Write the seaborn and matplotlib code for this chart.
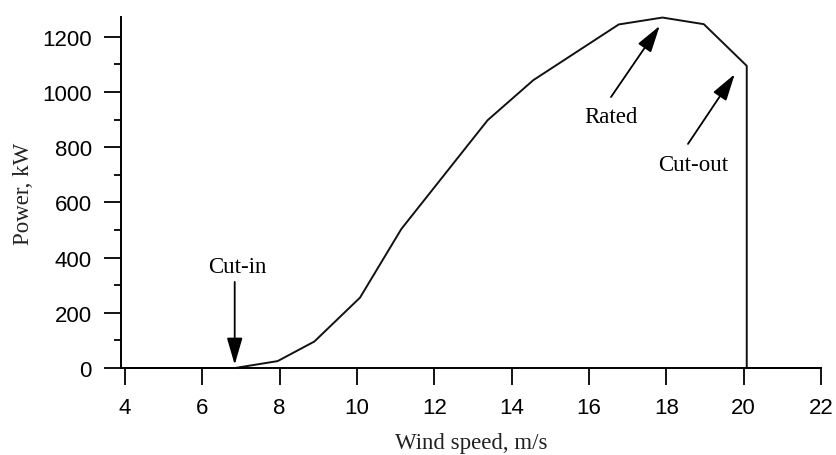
import matplotlib
matplotlib.use("Agg")
import matplotlib.pyplot as plt
import seaborn as sns
import pandas as pd
from matplotlib.ticker import MultipleLocator

wind_speed = [4.0, 6.85, 7.95, 8.9, 10.08, 11.15, 13.38, 14.56, 16.77, 17.9, 18.97, 20.08, 20.08, 22.0]
power_kw = [0, 0, 25, 96, 255, 504, 898, 1043, 1245, 1270, 1246, 1095, 0, 0]

xticks = [4, 6, 8, 10, 12, 14, 16, 18, 20, 22]
yticks = [0, 200, 400, 600, 800, 1000, 1200]

annotations = [
    ("Cut-in", (6.84, 12), (6.84, 312), (6.9, 368)),
    ("Rated", (17.83, 1240), (16.57, 982), (16.57, 910)),
    ("Cut-out", (19.77, 1065), (18.56, 812), (18.69, 739)),
]

df = pd.DataFrame({"Wind speed": wind_speed, "Power": power_kw})

sns.set_theme(style="ticks")
plt.rcParams["font.family"] = ["Liberation Sans", "DejaVu Sans"]

fig = plt.figure(figsize=(8.37, 4.56), dpi=100)
ax = fig.add_axes([121 / 837, 1 - 369 / 456, (821 - 121) / 837, (369 - 18) / 456])

sns.lineplot(data=df, x="Wind speed", y="Power", sort=False, estimator=None,
             color="#111111", linewidth=1.4, ax=ax, clip_on=False)

ax.set_xlim(3.9, 22)
ax.set_ylim(0, 1272)
ax.set_xticks(xticks)
ax.set_yticks(yticks)
ax.yaxis.set_minor_locator(MultipleLocator(100))
ax.tick_params(axis="both", which="major", length=12, width=1.3, labelsize=16,
               pad=9, colors="black", direction="out")
ax.tick_params(axis="y", which="minor", length=5, width=1.3, direction="out", color="black")
for s in ["left", "bottom"]:
    ax.spines[s].set_linewidth(1.4)
    ax.spines[s].set_color("black")
sns.despine(ax=ax)

serif = ["Liberation Serif", "DejaVu Serif"]
ax.set_xlabel("Wind speed, m/s", family=serif, fontsize=16.5, labelpad=10, color="#222222")
ax.set_ylabel("Power, kW", family=serif, fontsize=16.5, labelpad=6, color="#222222")

for label, head, tail, textpos in annotations:
    ax.annotate("", xy=head, xytext=tail,
                arrowprops=dict(arrowstyle="-|>,head_length=1.1,head_width=0.32",
                                mutation_scale=15, color="black", lw=1.3,
                                shrinkA=0, shrinkB=0))
    ax.text(textpos[0], textpos[1], label, family=serif, fontsize=16.5,
            ha="center", va="center", color="black")

fig.savefig("out.png", dpi=100)
